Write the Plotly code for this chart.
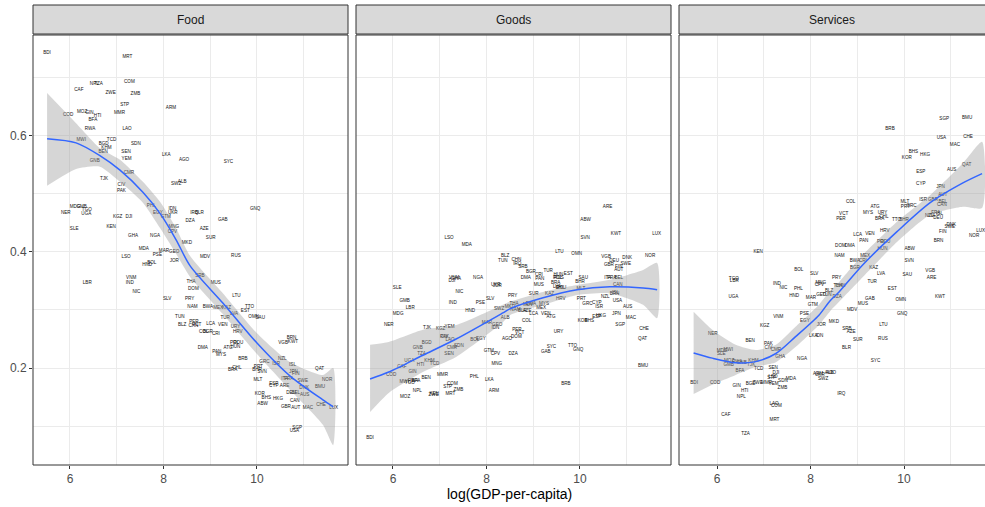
import plotly.graph_objects as go

countries = ["BDI","MRT","NPL","TZA","CAF","COM","ZWE","ZMB","STP","ARM","COD","MOZ","GIN","HTI","BFA","MMR","RWA","LAO","MWI","TCD",
"BGD","KHM","BEN","SDN","SEN","LKA","AGO","GNB","YEM","CMR","TJK","CIV","PAK","SWZ","ALB","PHL","IDN","BOL","GTM","UKR",
"MNG","CPV","NER","MDG","GMB","TGO","UGA","KGZ","DJI","SLE","KEN","GHA","NGA","MKD","DZA","MDA","MAR","GEO","LSO","PSE",
"HND","JOR","LBR","VNM","IND","NIC","SLV","PRY","THA","DOM","TUN","BLZ","MDV","RUS","SRB","MUS","LTU","TTO","EST","NAM",
"BWA","MEX","KAZ","LVA","OMN","SAU","TUR","PER","VCT","LCA","VEN","URY","HRV","COL","CRI","GAB","BRN","KWT","VGB","PAN",
"MYS","ATG","HUN","POL","ROU","CHL","BRA","DMA","GRC","NZL","ISR","ISL","PRT","BHS","BHR","SVN","QAT","NOR","JPN","FIN",
"MLT","ITA","FRA","SWE","CYP","ESP","ARE","KOR","BMU","DNK","AUS","DEU","BEL","HKG","ABW","CAN","GBR","AUT","MAC","CHE",
"LUX","SGP","USA","BRB","SYC","GNQ","IRQ","BLR","AZE","SUR","CHN","BGR","EGY"]

log_gdp = [5.51,7.23,6.52,6.61,6.19,7.27,6.87,7.40,7.17,8.16,5.96,6.26,6.42,6.59,6.49,7.06,6.43,7.22,6.24,6.89,
6.72,6.78,6.71,7.41,7.20,8.06,8.44,6.53,7.21,7.26,6.73,7.10,7.10,8.27,8.40,7.74,8.19,7.75,8.05,8.20,
8.22,8.19,5.91,6.11,6.25,6.36,6.35,7.02,7.26,6.09,6.88,7.35,7.82,8.50,8.57,7.58,8.01,8.23,7.20,7.87,
7.65,8.23,6.37,7.31,7.28,7.42,8.08,8.56,8.59,8.64,8.35,8.40,8.89,9.55,8.78,9.12,9.56,9.84,9.75,8.62,
8.95,9.17,9.35,9.51,9.93,10.07,9.32,8.65,8.71,9.01,9.27,9.54,9.59,8.86,9.12,9.27,10.74,10.77,10.56,9.14,
9.23,9.38,9.54,9.52,9.60,9.57,9.48,8.84,10.16,10.54,10.41,10.76,10.03,10.20,10.00,10.11,11.34,11.50,10.78,10.83,
10.02,10.59,10.68,10.98,10.36,10.36,10.59,10.06,11.35,11.01,11.02,10.73,10.83,10.45,10.12,10.81,10.62,10.83,11.09,11.37,
11.64,10.86,10.80,9.70,9.39,9.96,8.66,8.77,8.87,9.01,8.64,8.95,7.88]

food = [0.744,0.737,0.689,0.689,0.679,0.693,0.675,0.672,0.653,0.649,0.637,0.641,0.639,0.634,0.627,0.639,0.612,0.612,0.593,0.594,
0.586,0.579,0.572,0.586,0.573,0.568,0.558,0.557,0.560,0.537,0.526,0.515,0.505,0.518,0.521,0.479,0.474,0.381,0.461,0.467,
0.444,0.434,0.468,0.477,0.478,0.472,0.465,0.461,0.461,0.440,0.443,0.427,0.428,0.415,0.454,0.406,0.402,0.400,0.391,0.395,
0.378,0.384,0.346,0.356,0.346,0.332,0.320,0.320,0.348,0.337,0.289,0.274,0.391,0.394,0.359,0.347,0.325,0.306,0.299,0.305,
0.305,0.303,0.303,0.294,0.288,0.286,0.286,0.279,0.275,0.276,0.275,0.271,0.263,0.262,0.259,0.456,0.252,0.245,0.243,0.228,
0.222,0.235,0.237,0.244,0.244,0.200,0.196,0.234,0.210,0.216,0.208,0.206,0.202,0.149,0.196,0.193,0.198,0.180,0.193,0.190,
0.179,0.182,0.181,0.178,0.170,0.173,0.170,0.156,0.167,0.165,0.153,0.157,0.158,0.146,0.139,0.143,0.133,0.132,0.131,0.137,
0.132,0.097,0.092,0.216,0.555,0.475,0.468,0.467,0.439,0.425,0.272,0.262,0.468]

goods = [0.080,0.155,0.160,0.224,0.202,0.172,0.153,0.163,0.167,0.160,0.189,0.150,0.193,0.206,0.178,0.188,0.178,0.249,0.176,0.208,
0.243,0.212,0.183,0.239,0.225,0.179,0.251,0.234,0.271,0.234,0.269,0.254,0.254,0.302,0.287,0.184,0.270,0.249,0.230,0.344,
0.208,0.224,0.275,0.294,0.316,0.175,0.213,0.267,0.350,0.339,0.156,0.353,0.356,0.305,0.224,0.413,0.277,0.274,0.424,0.313,
0.298,0.341,0.303,0.355,0.312,0.331,0.319,0.324,0.310,0.253,0.385,0.393,0.309,0.355,0.374,0.343,0.400,0.239,0.363,0.301,
0.311,0.304,0.327,0.340,0.396,0.355,0.367,0.266,0.260,0.294,0.293,0.263,0.319,0.281,0.360,0.227,0.328,0.432,0.391,0.353,
0.310,0.288,0.360,0.355,0.338,0.339,0.347,0.356,0.310,0.322,0.305,0.329,0.320,0.281,0.349,0.424,0.251,0.394,0.294,0.375,
0.336,0.356,0.356,0.379,0.313,0.289,0.477,0.281,0.203,0.389,0.306,0.384,0.356,0.290,0.456,0.344,0.377,0.370,0.286,0.267,
0.432,0.275,0.315,0.172,0.236,0.231,0.379,0.299,0.299,0.327,0.386,0.366,0.250]

services = [0.175,0.110,0.151,0.087,0.120,0.135,0.174,0.165,0.183,0.190,0.175,0.212,0.170,0.160,0.195,0.175,0.210,0.139,0.231,0.199,
0.173,0.212,0.246,0.178,0.201,0.255,0.191,0.209,0.172,0.231,0.205,0.234,0.241,0.182,0.192,0.337,0.256,0.370,0.309,0.189,
0.347,0.343,0.258,0.230,0.206,0.353,0.322,0.272,0.191,0.224,0.401,0.220,0.216,0.280,0.322,0.181,0.321,0.326,0.185,0.293,
0.325,0.275,0.351,0.289,0.345,0.339,0.362,0.356,0.342,0.410,0.326,0.333,0.300,0.251,0.268,0.310,0.275,0.455,0.337,0.394,
0.384,0.393,0.372,0.363,0.318,0.360,0.349,0.457,0.465,0.430,0.432,0.468,0.437,0.487,0.384,0.319,0.420,0.323,0.368,0.420,
0.468,0.478,0.405,0.418,0.418,0.461,0.457,0.410,0.479,0.462,0.489,0.465,0.478,0.572,0.455,0.384,0.551,0.427,0.513,0.435,
0.486,0.462,0.468,0.443,0.517,0.538,0.355,0.563,0.632,0.446,0.541,0.459,0.486,0.567,0.406,0.482,0.490,0.499,0.584,0.598,
0.436,0.629,0.596,0.612,0.212,0.294,0.155,0.234,0.262,0.248,0.342,0.372,0.282]

# smoothed trend (loess) and its confidence band
food_fit_x = [5.51,6.13,6.64,7.07,7.56,7.93,8.27,8.57,9.27,10.00,10.71,11.41,11.63]
food_fit   = [0.595,0.588,0.566,0.541,0.503,0.466,0.421,0.376,0.312,0.243,0.186,0.145,0.133]
food_hi    = [0.674,0.622,0.579,0.559,0.521,0.486,0.441,0.393,0.329,0.260,0.210,0.188,0.200]
food_lo    = [0.514,0.543,0.547,0.521,0.485,0.441,0.397,0.357,0.293,0.224,0.162,0.102,0.067]

goods_fit_x = [5.51,5.91,6.64,7.35,8.35,8.50,9.21,9.94,10.64,11.35,11.65]
goods_fit   = [0.181,0.193,0.222,0.250,0.295,0.302,0.321,0.335,0.340,0.338,0.335]
goods_hi    = [0.240,0.245,0.266,0.274,0.309,0.314,0.331,0.343,0.352,0.369,0.381]
goods_lo    = [0.124,0.157,0.193,0.219,0.279,0.291,0.309,0.326,0.329,0.309,0.286]

serv_fit_x = [5.50,5.90,6.40,6.83,7.26,7.68,8.18,8.42,8.61,9.12,9.85,10.56,11.26,11.67]
serv_fit   = [0.226,0.217,0.209,0.211,0.225,0.254,0.291,0.316,0.331,0.378,0.435,0.485,0.519,0.535]
serv_hi    = [0.297,0.266,0.240,0.231,0.240,0.271,0.309,0.333,0.348,0.395,0.452,0.498,0.553,0.590]
serv_lo    = [0.155,0.171,0.188,0.202,0.210,0.236,0.274,0.298,0.314,0.357,0.417,0.464,0.478,0.476]

panel_titles = ["Food", "Goods", "Services"]
x_ticks = [6, 8, 10]
y_ticks = [0.2, 0.4, 0.6]

W, H = 985, 507
FONT = "Liberation Sans, Arial, sans-serif"
fig = go.Figure()

panels = [
    (food, food_fit_x, food_fit, food_hi, food_lo),
    (goods, goods_fit_x, goods_fit, goods_hi, goods_lo),
    (services, serv_fit_x, serv_fit, serv_hi, serv_lo),
]
for i, (share, fx, fy, fhi, flo) in enumerate(panels):
    xa = "x" if i == 0 else f"x{i+1}"
    ya = "y" if i == 0 else f"y{i+1}"
    fig.add_trace(go.Scatter(
        x=log_gdp, y=share, text=countries, mode="text",
        textfont=dict(size=4.6, color="#111111", family=FONT),
        xaxis=xa, yaxis=ya, hoverinfo="text", showlegend=False))
    fig.add_trace(go.Scatter(
        x=fx + fx[::-1], y=fhi + flo[::-1], mode="lines", fill="toself",
        fillcolor="rgba(153,153,153,0.4)", line=dict(width=0, shape="spline", smoothing=0.6),
        xaxis=xa, yaxis=ya, hoverinfo="skip", showlegend=False))
    fig.add_trace(go.Scatter(
        x=fx, y=fy, mode="lines", line=dict(color="#3366FF", width=1.5, shape="spline", smoothing=0.8),
        xaxis=xa, yaxis=ya, hoverinfo="skip", showlegend=False))

px_per_unit = 46.75
doms = [(33, 348), (356, 671), (679, 985)]
lefts = [5.209, 5.209, 5.187]
y_dom = [(H - 465) / H, (H - 35) / H]
y_range = [0.0328, 0.774]

axis_common = dict(
    ticks="outside", ticklen=3, tickwidth=1, tickcolor="#333333",
    tickfont=dict(size=12, color="#4D4D4D", family=FONT),
    showgrid=True, gridcolor="#EBEBEB", gridwidth=1.1, zeroline=False, showline=False,
    automargin=False,
)

for i, (a, b) in enumerate(doms):
    sfx = "" if i == 0 else str(i + 1)
    lo = lefts[i]
    hi = lo + (b - a) / px_per_unit
    fig.layout[f"xaxis{sfx}"] = dict(
        domain=[a / W, b / W], range=[lo, hi], tickvals=x_ticks, ticktext=[str(t) for t in x_ticks],
        anchor=f"y{sfx}",
        minor=dict(tickvals=[5, 7, 9, 11], showgrid=True, gridcolor="#EBEBEB", gridwidth=0.6, ticks=""),
        **axis_common)
    yax = dict(domain=y_dom, range=y_range, anchor=f"x{sfx}",
               tickvals=y_ticks, ticktext=["0.2", "0.4", "0.6"],
               minor=dict(tickvals=[0.1, 0.3, 0.5, 0.7], showgrid=True, gridcolor="#EBEBEB", gridwidth=0.6, ticks=""),
               **axis_common)
    if i > 0:
        yax["showticklabels"] = False
        yax["ticks"] = ""
    fig.layout[f"yaxis{sfx}"] = yax

shapes = []
annotations = []
for i, (a, b) in enumerate(doms):
    x1 = b / W if i < 2 else 1.01
    shapes.append(dict(type="rect", xref="paper", yref="paper", x0=a / W, x1=x1,
                       y0=y_dom[0], y1=y_dom[1], line=dict(color="#333333", width=1), layer="above"))
    shapes.append(dict(type="rect", xref="paper", yref="paper", x0=a / W, x1=x1,
                       y0=(H - 34) / H, y1=(H - 5) / H, fillcolor="#D9D9D9",
                       line=dict(color="#333333", width=1), layer="above"))
    cx = (a + b) / 2 / W if i < 2 else (a + 985) / 2 / W
    annotations.append(dict(text=panel_titles[i], x=cx, y=(H - 20) / H, xref="paper", yref="paper",
                            showarrow=False, xanchor="center", yanchor="middle",
                            font=dict(size=12, color="#1A1A1A", family=FONT)))

annotations.append(dict(text="log(GDP-per-capita)", x=509 / W, y=(H - 494) / H, xref="paper", yref="paper",
                        showarrow=False, xanchor="center", yanchor="middle",
                        font=dict(size=14, color="#000000", family=FONT)))

fig.update_layout(
    width=W, height=H, margin=dict(l=0, r=0, t=0, b=0, autoexpand=False),
    paper_bgcolor="white", plot_bgcolor="white",
    shapes=shapes, annotations=annotations, showlegend=False,
)

fig.write_html("out.html", config={"displayModeBar": False},
               post_script="document.body.style.margin='0px';document.body.style.overflow='hidden';")
